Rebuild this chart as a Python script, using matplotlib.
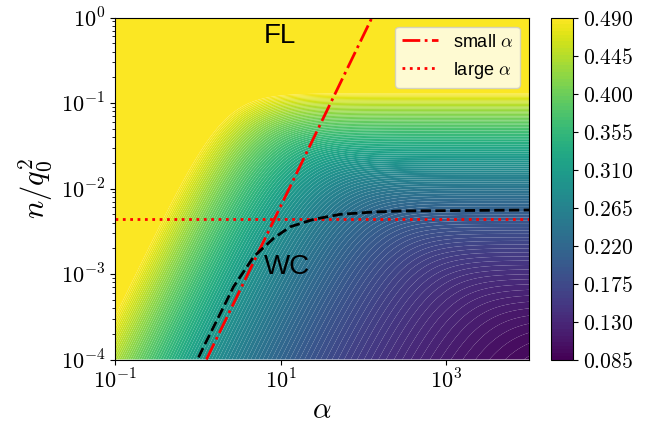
import numpy as np
import matplotlib
matplotlib.use('Agg')
import matplotlib.pyplot as plt
from matplotlib.ticker import FixedLocator, NullLocator, FuncFormatter

plt.rcParams['font.family'] = ['Liberation Sans', 'DejaVu Sans']
plt.rcParams['mathtext.fontset'] = 'cm'

# axis ranges (alpha, n/q0^2)
alpha_lim = (1e-1, 1e4)
n_lim = (1e-4, 1e0)

# colour scale of the order parameter
v_min, v_max = 0.085, 0.490
n_levels = 100
cbar_ticks = [0.085, 0.130, 0.175, 0.220, 0.265, 0.310, 0.355, 0.400, 0.445, 0.490]

# field model: v = V0 + VA * n_c**VK along each contour; a contour is flat
# at n_c for large alpha and bends down as alpha^2 below the crossover
V0, VA, VK = 0.0321, 0.838, 0.30
X0_A, X0_B = -0.76, 1.20      # log10 crossover alpha = X0_A - X0_B*log10(n_c)
SOFT = 0.55                   # width of the crossover (decades)

# small-alpha asymptote n ~ alpha^2
alpha_small = [1.27, 127.0]
n_small = [1e-4, 1.0]

# large-alpha asymptote
n_large = 4.36e-3

# WC / FL transition line
alpha_tr = [1.02, 1.175, 1.63, 2.15, 2.70, 3.57, 4.72, 8.23, 13.1, 25.1,
            52.6, 133.0, 279.0, 1e4]
n_tr = [1.06e-4, 1.41e-4, 2.65e-4, 4.54e-4, 7.1e-4, 1.06e-3, 1.59e-3,
        2.62e-3, 3.57e-3, 4.36e-3, 4.99e-3, 5.31e-3, 5.46e-3, 5.6e-3]


def contour_level(lx, ly):
    """Find log10(n_c) of the contour passing through (lx, ly)."""
    lo = ly.copy()
    hi = ly + 12.0
    for _ in range(60):
        mid = 0.5 * (lo + hi)
        x0 = X0_A - X0_B * mid
        f = mid - 2 * SOFT * np.log10(1 + 10 ** ((x0 - lx) / SOFT))
        below = f < ly
        lo = np.where(below, mid, lo)
        hi = np.where(below, hi, mid)
    return 0.5 * (lo + hi)


lx = np.linspace(np.log10(alpha_lim[0]), np.log10(alpha_lim[1]), 500)
ly = np.linspace(np.log10(n_lim[0]), np.log10(n_lim[1]), 400)
LX, LY = np.meshgrid(lx, ly)
yc = contour_level(LX, LY)
field = np.clip(V0 + VA * 10 ** (VK * yc), v_min, v_max)

fig = plt.figure(figsize=(6.52, 4.26), dpi=100)
ax = fig.add_axes([0.1764, 0.1561, 0.6350, 0.8028])
cax = fig.add_axes([0.8451, 0.1561, 0.0337, 0.8028])

levels = np.linspace(v_min, v_max, n_levels + 1)
cf = ax.contourf(10 ** LX, 10 ** LY, field, levels=levels, cmap='viridis',
                 antialiased=True)

ax.plot(alpha_small, n_small, color='red', ls='-.', lw=2, label=r'small $\alpha$')
ax.axhline(n_large, color='red', ls=':', lw=2, label=r'large $\alpha$')
ax.plot(alpha_tr, n_tr, color='black', ls='--', lw=2)

ax.text(6.3, 0.5, 'FL', fontsize=20)
ax.text(6.3, 1e-3, 'WC', fontsize=20)

ax.set_xscale('log')
ax.set_yscale('log')
ax.set_xlim(*alpha_lim)
ax.set_ylim(*n_lim)
ax.xaxis.set_major_locator(FixedLocator([1e-1, 1e1, 1e3]))
ax.xaxis.set_minor_locator(NullLocator())
pow_fmt = FuncFormatter(lambda v, _: rf'$10^{{{int(round(np.log10(v)))}}}$')
ax.xaxis.set_major_formatter(pow_fmt)
ax.yaxis.set_major_formatter(pow_fmt)
ax.tick_params(labelsize=16)
ax.set_xlabel(r'$\alpha$', fontsize=21, labelpad=2)
ax.set_ylabel(r'$n/q_0^2$', fontsize=22)

ax.legend(loc='upper right', fontsize=13)

cb = fig.colorbar(cf, cax=cax, ticks=cbar_ticks)
cb.ax.yaxis.set_major_formatter(FuncFormatter(lambda v, _: rf'${v:.3f}$'))
cb.ax.tick_params(labelsize=15.5)

fig.savefig('out.png', dpi=100)
